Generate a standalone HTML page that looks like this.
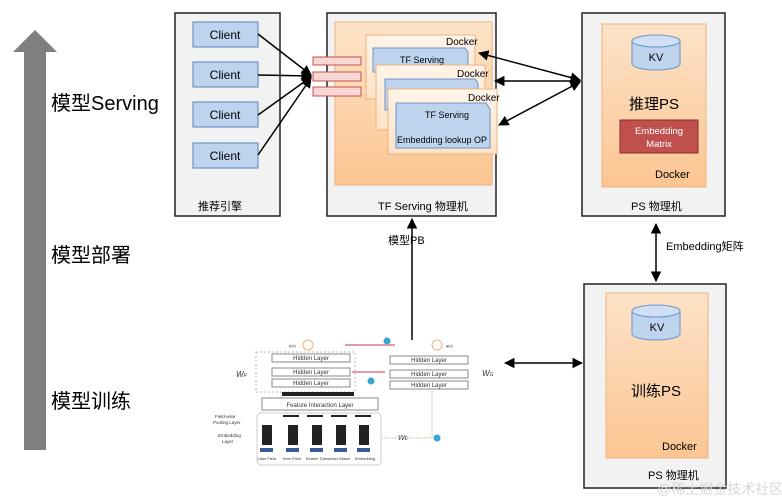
<!DOCTYPE html>
<html><head><meta charset="utf-8"><style>
html,body{margin:0;padding:0;background:#fff;}
svg{display:block;font-family:"Liberation Sans","Noto Sans CJK SC",sans-serif;}
</style></head><body>
<svg width="782" height="501" viewBox="0 0 782 501" xmlns="http://www.w3.org/2000/svg">
<defs>
<marker id="ah" viewBox="0 0 10 10" refX="9" refY="5" markerWidth="7" markerHeight="7" orient="auto-start-reverse"><path d="M0,0 L10,5 L0,10 z" fill="#000"/></marker>
<linearGradient id="og" x1="0" y1="0" x2="0" y2="1"><stop offset="0" stop-color="#fde3c8"/><stop offset="1" stop-color="#fbc592"/></linearGradient>
<linearGradient id="dg" x1="0" y1="0" x2="0" y2="1"><stop offset="0" stop-color="#fff4ea"/><stop offset="1" stop-color="#fde2c6"/></linearGradient>
</defs>
<polygon points="35,30 57,52 46,52 46,450 24,450 24,52 13,52" fill="#7f7f7f"/>
<text x="51" y="110" font-size="20">模型Serving</text>
<text x="51" y="262" font-size="20">模型部署</text>
<text x="51" y="408" font-size="20">模型训练</text>

<rect x="175" y="13" width="105" height="203" fill="#f2f2f2" stroke="#222" stroke-width="1.5"/>
<g fill="#bdd3ee" stroke="#6d94c6" stroke-width="1.2">
<rect x="193" y="22" width="65" height="25"/><rect x="193" y="62" width="65" height="25"/>
<rect x="193" y="102" width="65" height="25"/><rect x="193" y="143" width="65" height="25"/></g>
<g font-size="12" text-anchor="middle"><text x="225" y="39">Client</text><text x="225" y="79">Client</text><text x="225" y="119">Client</text><text x="225" y="160">Client</text></g>
<text x="198" y="210" font-size="11">推荐引擎</text>
<g stroke="#000" stroke-width="1.5" marker-end="url(#ah)">
<line x1="258" y1="34" x2="311" y2="75"/><line x1="258" y1="75" x2="311" y2="76"/>
<line x1="258" y1="115" x2="311" y2="77"/><line x1="258" y1="155" x2="311" y2="78"/></g>

<rect x="327" y="13" width="169" height="203" fill="#f2f2f2" stroke="#222" stroke-width="1.5"/>
<rect x="335" y="22" width="157" height="163" fill="url(#og)" stroke="#f0b27a"/>
<g fill="#f8d7d5" stroke="#c0504d"><rect x="313" y="57" width="48" height="8"/><rect x="313" y="72" width="48" height="9"/><rect x="313" y="87" width="48" height="9"/></g>
<rect x="366" y="35" width="109" height="64" fill="url(#dg)" stroke="#f0b27a"/>
<polygon points="373,48 465,48 468,52 468,72 373,72" fill="#bdd3ee" stroke="#6d94c6"/>
<text x="446" y="45" font-size="10">Docker</text><text x="400" y="63" font-size="9">TF Serving</text>
<rect x="376" y="65" width="109" height="65" fill="url(#dg)" stroke="#f0b27a"/>
<polygon points="385,79 475,79 478,83 478,110 385,110" fill="#bdd3ee" stroke="#6d94c6"/>
<text x="457" y="77" font-size="10">Docker</text>
<rect x="388" y="89" width="109" height="65" fill="url(#dg)" stroke="#f0b27a"/>
<polygon points="396,103 486,103 490,109 490,148 396,148" fill="#bdd3ee" stroke="#6d94c6"/>
<text x="468" y="101" font-size="10">Docker</text>
<text x="425" y="118" font-size="9">TF Serving</text>
<text x="397" y="143" font-size="9">Embedding lookup OP</text>
<text x="378" y="210" font-size="11">TF Serving 物理机</text>

<g stroke="#000" stroke-width="1.5" marker-end="url(#ah)" marker-start="url(#ah)">
<line x1="580" y1="80" x2="479" y2="53"/><line x1="580" y1="81" x2="495" y2="81"/><line x1="580" y1="82" x2="499" y2="125"/></g>

<rect x="582" y="13" width="143" height="203" fill="#f2f2f2" stroke="#222" stroke-width="1.5"/>
<rect x="602" y="24" width="104" height="163" fill="url(#og)" stroke="#f0b27a"/>
<path d="M632,41 v23 a24,6 0 0 0 48,0 v-23" fill="#bdd3ee" stroke="#6d94c6"/>
<ellipse cx="656" cy="41" rx="24" ry="6" fill="#cfe0f4" stroke="#6d94c6"/>
<text x="656" y="61" font-size="11" text-anchor="middle">KV</text>
<text x="654" y="109" font-size="15" text-anchor="middle">推理PS</text>
<rect x="620" y="120" width="78" height="33" fill="#c0504d" stroke="#8c2d2b"/>
<text x="659" y="134" font-size="9.5" fill="#fff" text-anchor="middle">Embedding</text>
<text x="659" y="147" font-size="9.5" fill="#fff" text-anchor="middle">Matrix</text>
<text x="655" y="178" font-size="11">Docker</text>
<text x="631" y="210" font-size="11">PS  物理机</text>

<line x1="656" y1="224" x2="656" y2="281" stroke="#000" stroke-width="1.5" marker-end="url(#ah)" marker-start="url(#ah)"/>
<text x="666" y="250" font-size="11">Embedding矩阵</text>

<rect x="584" y="284" width="142" height="204" fill="#f2f2f2" stroke="#222" stroke-width="1.5"/>
<rect x="606" y="293" width="102" height="165" fill="url(#og)" stroke="#f0b27a"/>
<path d="M632,311 v23 a24,6 0 0 0 48,0 v-23" fill="#bdd3ee" stroke="#6d94c6"/>
<ellipse cx="656" cy="311" rx="24" ry="6" fill="#cfe0f4" stroke="#6d94c6"/>
<text x="657" y="331" font-size="11" text-anchor="middle">KV</text>
<text x="656" y="396" font-size="15" text-anchor="middle">训练PS</text>
<text x="662" y="450" font-size="11">Docker</text>
<text x="648" y="479" font-size="11">PS  物理机</text>
<text x="657" y="494" font-size="14" fill="#d8d8d8">@稀土掘金技术社区</text>

<line x1="412" y1="340" x2="412" y2="219" stroke="#000" stroke-width="1.5" marker-end="url(#ah)"/>
<text x="388" y="244" font-size="11">模型PB</text>
<line x1="582" y1="363" x2="505" y2="363" stroke="#000" stroke-width="1.5" marker-end="url(#ah)" marker-start="url(#ah)"/>

<g font-size="6" fill="#333">
<circle cx="308" cy="345" r="5" fill="none" stroke="#f0b27a"/><text x="289" y="347" font-size="4">p(x)</text>
<circle cx="437" cy="345" r="5" fill="none" stroke="#f0b27a"/><text x="446" y="347" font-size="4">q(x)</text>
<line x1="345" y1="345" x2="395" y2="345" stroke="#e39aa3" stroke-width="2"/>
<circle cx="387" cy="341" r="3.5" fill="#3aa6d4"/>
<line x1="352" y1="372" x2="385" y2="372" stroke="#e39aa3" stroke-width="2"/>
<circle cx="371" cy="381" r="3.5" fill="#3aa6d4"/>
<rect x="256" y="352" width="99" height="40" fill="none" stroke="#bbb" stroke-dasharray="2,2"/>
<g fill="#fff" stroke="#888"><rect x="272" y="354" width="78" height="8"/><rect x="272" y="368" width="78" height="8"/><rect x="272" y="379" width="78" height="8"/>
<rect x="390" y="356" width="78" height="8"/><rect x="390" y="370" width="78" height="8"/><rect x="390" y="381" width="78" height="8"/>
<rect x="262" y="398" width="116" height="12"/><rect x="257" y="413" width="124" height="52" rx="4" stroke="#ccc"/></g>
<g text-anchor="middle"><text x="311" y="360">Hidden Layer</text><text x="311" y="374">Hidden Layer</text><text x="311" y="385">Hidden Layer</text>
<text x="429" y="362">Hidden Layer</text><text x="429" y="376">Hidden Layer</text><text x="429" y="387">Hidden Layer</text>
<text x="320" y="407">Feature Interaction Layer</text></g>
<text x="236" y="377" font-size="8" font-style="italic">W<tspan font-size="5">F</tspan></text>
<text x="482" y="376" font-size="8" font-style="italic">W<tspan font-size="5">G</tspan></text>
<text x="398" y="440" font-size="7" font-style="italic">W<tspan font-size="5">E</tspan></text>
<rect x="282" y="392" width="72" height="4" fill="#222"/>
<g fill="#222"><rect x="288" y="425" width="10" height="20"/><rect x="312" y="425" width="10" height="20"/><rect x="336" y="425" width="10" height="20"/><rect x="359" y="425" width="10" height="20"/><rect x="283" y="415" width="16" height="2"/><rect x="307" y="415" width="16" height="2"/><rect x="331" y="415" width="16" height="2"/><rect x="355" y="415" width="16" height="2"/></g>
<g fill="#3a5a9a"><rect x="286" y="448" width="13" height="4"/><rect x="310" y="448" width="13" height="4"/><rect x="334" y="448" width="13" height="4"/><rect x="357" y="448" width="13" height="4"/></g>
<rect x="262" y="425" width="10" height="20" fill="#222"/><rect x="260" y="448" width="13" height="4" fill="#3a5a9a"/>
<path d="M382,438 H432 V390" fill="none" stroke="#c8b48c" stroke-dasharray="1,1"/>
<circle cx="437" cy="438" r="3.5" fill="#3aa6d4"/>
<g font-size="4" text-anchor="middle"><text x="267" y="460">User Field</text><text x="292" y="460">Item Field</text><text x="318" y="460">Search Token</text><text x="340" y="460">User Watch</text><text x="365" y="460">Embedding</text></g>
<text x="215" y="418" font-size="4.5">Field-wise</text><text x="213" y="424" font-size="4.5">Pooling Layer</text>
<text x="218" y="437" font-size="4.5">Embedding</text><text x="222" y="443" font-size="4.5">Layer</text>
</g>
</svg>
</body></html>
